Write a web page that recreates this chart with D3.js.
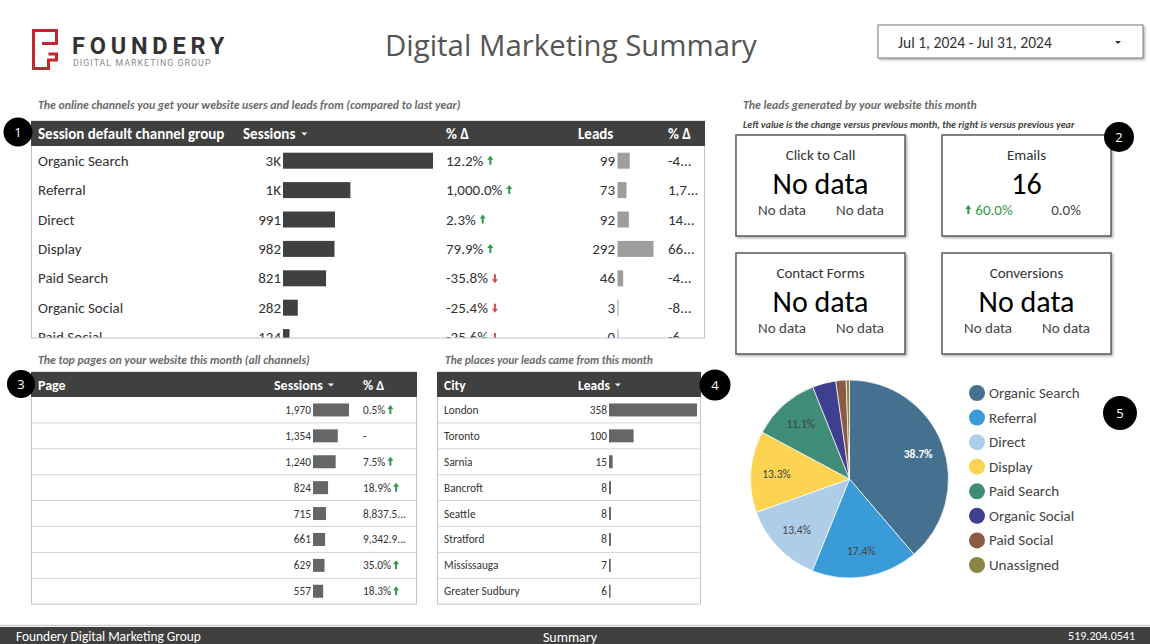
<!DOCTYPE html>
<html><head><meta charset="utf-8">
<script src="https://cdn.jsdelivr.net/npm/d3@7"></script>
<style>
body{margin:0;background:#fff;}
svg{display:block;}
</style></head><body>
<svg id="c" width="1150" height="644"></svg>
<script>
// ---------------- DATA ----------------
const channels = ["Organic Search","Referral","Direct","Display","Paid Search","Organic Social","Paid Social"];
const channelSessions = [2860,1285,991,982,821,282,124];
const channelSessionLabels = ["3K","1K","991","982","821","282","124"];
const channelSessionDelta = ["12.2%","1,000.0%","2.3%","79.9%","-35.8%","-25.4%","-25.6%"];
const channelSessionDir = [1,1,1,1,-1,-1,-1];
const channelLeads = [99,73,92,292,46,3,0];
const channelLeadDelta = ["-4...","1,7...","14...","66...","-4...","-8...","-6..."];

const pageNames = ["","","","","","","",""];
const pageSessions = [1970,1354,1240,824,715,661,629,557];
const pageDelta = ["0.5%","-","7.5%","18.9%","8,837.5...","9,342.9...","35.0%","18.3%"];
const pageDir = [1,0,1,1,0,0,1,1];

const cities = ["London","Toronto","Sarnia","Bancroft","Seattle","Stratford","Mississauga","Greater Sudbury"];
const cityLeads = [358,100,15,8,8,8,7,6];

const pieCategories = ["Organic Search","Referral","Direct","Display","Paid Search","Organic Social","Paid Social","Unassigned"];
const pieSessions = [2860,1285,991,982,821,282,124,40];
const pieColors = ["#46708f","#3a9bd9","#aecde8","#fdd352","#3f8c79","#3e408f","#8b5a42","#8a8446"];

const kpiTitles = ["Click to Call","Emails","Contact Forms","Conversions"];
const kpiValues = ["No data","16","No data","No data"];
const kpiLeft = ["No data","60.0%","No data","No data"];
const kpiRight = ["No data","0.0%","No data","No data"];
const kpiLeftDir = [0,1,0,0];

// ---------------- DRAW ----------------
const FONT = "Carlito, Lato, 'Open Sans', sans-serif";
const svg = d3.select("#c").attr("font-family", FONT);
const defs = svg.append("defs");
const sh = defs.append("filter").attr("id","sh").attr("x","-10%").attr("y","-10%").attr("width","130%").attr("height","130%");
sh.append("feDropShadow").attr("dx",1.5).attr("dy",1.5).attr("stdDeviation",1.2).attr("flood-color","#000").attr("flood-opacity",0.3);

const GREEN = "#2e9a47", RED = "#e0474b", HEAD = "#404040", BORDER = "#bcc7d2";

function arrow(g, x, y, dir){
  const p = dir > 0
    ? `M${x},${y-5} L${x-3},${y-1} L${x-1},${y-1} L${x-1},${y+4} L${x+1},${y+4} L${x+1},${y-1} L${x+3},${y-1} Z`
    : `M${x},${y+5} L${x-3},${y+1} L${x-1},${y+1} L${x-1},${y-4} L${x+1},${y-4} L${x+1},${y+1} L${x+3},${y+1} Z`;
  g.append("path").attr("d",p).attr("fill", dir>0?GREEN:RED);
}
function sortTri(g, x, y){
  g.append("path").attr("d",`M${x-3},${y-1.5} L${x+3},${y-1.5} L${x},${y+1.5} Z`).attr("fill","#fff");
}
function fit(sel, w){
  const l = sel.node().getComputedTextLength();
  const fs = parseFloat(sel.attr("font-size"));
  sel.attr("font-size", fs*w/l);
}
function badge(x, y, r, n){
  svg.append("circle").attr("cx",x).attr("cy",y).attr("r",r).attr("fill","#000");
  svg.append("text").attr("x",x).attr("y",y).attr("text-anchor","middle").attr("dominant-baseline","central")
    .attr("fill","#fff").attr("font-size",13).attr("font-family","'Open Sans', sans-serif").text(n);
}

// ---- Logo ----
svg.append("path")
  .attr("d","M48.5,54 L56.5,54 L56.5,60 L48.5,60 L48.5,68.5 L33.5,68.5 L33.5,30.5 L56.5,30.5 L56.5,43.5 L42,43.5")
  .attr("fill","none").attr("stroke","#c1272d").attr("stroke-width",3);
const lt = svg.append("text").attr("x",72).attr("y",53.5).attr("font-family","Roboto, sans-serif")
  .attr("font-weight",700).attr("font-size",23.5).attr("letter-spacing",4.8).attr("fill","#333").text("FOUNDERY");
const lt2 = svg.append("text").attr("x",73).attr("y",66).attr("font-family","Roboto, sans-serif")
  .attr("font-size",8.8).attr("letter-spacing",1.05).attr("fill","#8a8a8a").text("DIGITAL MARKETING GROUP");

// ---- Title ----
const title = svg.append("text").attr("x",385).attr("y",56).attr("font-family","'Open Sans', sans-serif")
  .attr("font-size",28).attr("fill","#555").text("Digital Marketing Summary");
fit(title, 372);

// ---- Date picker ----
svg.append("rect").attr("x",878).attr("y",25).attr("width",265).attr("height",33)
  .attr("fill","#fff").attr("stroke","#777").attr("stroke-width",1).attr("filter","url(#sh)");
const dt = svg.append("text").attr("x",898).attr("y",42).attr("dominant-baseline","central")
  .attr("font-size",14).attr("fill","#333").text("Jul 1, 2024 - Jul 31, 2024");
fit(dt, 154);
svg.append("path").attr("d","M1115,41 L1121,41 L1118,44 Z").attr("fill","#333");

// ---- Subtitles ----
function sub(x, y, t, fs, col, w){
  const s = svg.append("text").attr("x",x).attr("y",y).attr("font-size",fs).attr("font-style","italic")
    .attr("font-weight",700).attr("fill",col).text(t);
  if (w) fit(s, w);
}
sub(38,109,"The online channels you get your website users and leads from (compared to last year)",10.5,"#6b6b6b",423);
sub(743,109,"The leads generated by your website this month",10.5,"#6b6b6b",234);
sub(743,128,"Left value is the change versus previous month, the right is versus previous year",8.5,"#444",332);
sub(38,364,"The top pages on your website this month (all channels)",10.5,"#6b6b6b",272);
sub(445,364,"The places your leads came from this month",10.5,"#6b6b6b",208);

// ---- Table 1: channels ----
{
  const x0=31, y0=121, w=674, h=217, hh=25;
  defs.append("clipPath").attr("id","clip1").append("rect").attr("x",x0).attr("y",y0).attr("width",w).attr("height",h);
  const g = svg.append("g").attr("clip-path","url(#clip1)");
  g.append("rect").attr("x",x0).attr("y",y0).attr("width",w).attr("height",h).attr("fill","#fff");
  const hy = y0+hh/2+0.5;

  const y = d3.scaleBand().domain(channels).range([y0+hh, y0+hh+channels.length*29.4]);
  const xs = d3.scaleLinear().domain([0, d3.max(channelSessions)]).range([0,150]);
  const xl = d3.scaleLinear().domain([0, d3.max(channelLeads)]).range([0,36]);
  channels.forEach((c,i)=>{
    const cy = y(c)+y.bandwidth()/2;
    const tx = (x,t,anchor,col)=>g.append("text").attr("x",x).attr("y",cy).attr("dominant-baseline","central")
      .attr("font-size",15).attr("fill",col||"#333").attr("text-anchor",anchor||"start").text(t);
    tx(38,c);
    tx(281,channelSessionLabels[i],"end");
    g.append("rect").attr("x",283).attr("y",cy-8).attr("width",xs(channelSessions[i])).attr("height",16).attr("fill","#404040");
    const dtx = tx(446,channelSessionDelta[i]);
    arrow(g, 446+dtx.node().getComputedTextLength()+7, cy, channelSessionDir[i]);
    tx(615,channelLeads[i],"end");
    g.append("rect").attr("x",617.5).attr("y",cy-8).attr("width",Math.max(1,xl(channelLeads[i]))).attr("height",16).attr("fill","#9e9e9e");
    tx(668,channelLeadDelta[i]);
  });
  svg.append("rect").attr("x",x0+0.5).attr("y",y0).attr("width",w-1).attr("height",h).attr("fill","none").attr("stroke",BORDER);
  svg.append("rect").attr("x",x0).attr("y",y0).attr("width",w).attr("height",hh).attr("fill",HEAD);
  const g2 = svg.append("g");
  const hdr2 = (x,t)=>g2.append("text").attr("x",x).attr("y",hy).attr("dominant-baseline","central")
    .attr("font-size",15).attr("font-weight",700).attr("fill","#fff").text(t);
  hdr2(38,"Session default channel group");
  const s2 = hdr2(243,"Sessions");
  sortTri(g2, 243+s2.node().getComputedTextLength()+9, hy);
  hdr2(446,"% \u0394"); hdr2(578,"Leads"); hdr2(668,"% \u0394");
}

// ---- Table 3: pages ----
{
  const x0=31, y0=372, w=386, hh=25, rh=25.9;
  const n = pageSessions.length;
  const h = hh + n*rh;
  const g = svg.append("g");
  g.append("rect").attr("x",x0+0.5).attr("y",y0).attr("width",w-1).attr("height",h).attr("fill","#fff").attr("stroke",BORDER);
  g.append("rect").attr("x",x0).attr("y",y0).attr("width",w).attr("height",hh).attr("fill",HEAD);
  const hy = y0+hh/2+0.5;
  const hdr = (x,t)=>g.append("text").attr("x",x).attr("y",hy).attr("dominant-baseline","central")
    .attr("font-size",14).attr("font-weight",700).attr("fill","#fff").text(t);
  hdr(38,"Page");
  const s = hdr(274,"Sessions");
  sortTri(g, 274+s.node().getComputedTextLength()+8, hy);
  hdr(363,"% \u0394");
  const idx = d3.range(n);
  const y = d3.scaleBand().domain(idx).range([y0+hh, y0+h]);
  const xs = d3.scaleLinear().domain([0, d3.max(pageSessions)]).range([0,36]);
  idx.forEach(i=>{
    const top = y(i), cy = top + rh/2;
    if (i>0) g.append("line").attr("x1",x0+1).attr("x2",x0+w-1).attr("y1",top).attr("y2",top).attr("stroke","#cfd6dd");
    g.append("text").attr("x",38).attr("y",cy).attr("dominant-baseline","central").attr("font-size",11).attr("fill","#333").text(pageNames[i]);
    g.append("text").attr("x",311).attr("y",cy).attr("dominant-baseline","central").attr("text-anchor","end")
      .attr("font-size",11.3).attr("fill","#333").text(d3.format(",")(pageSessions[i]));
    g.append("rect").attr("x",313).attr("y",cy-6.5).attr("width",xs(pageSessions[i])).attr("height",13).attr("fill","#666");
    const t = g.append("text").attr("x",363).attr("y",cy).attr("dominant-baseline","central")
      .attr("font-size",11.3).attr("fill","#333").text(pageDelta[i]);
    if (pageDir[i]) arrow(g, 363+t.node().getComputedTextLength()+5, cy, pageDir[i]);
  });
}

// ---- Table 4: cities ----
{
  const x0=437, y0=372, w=264, hh=25, rh=25.9;
  const n = cities.length;
  const h = hh + n*rh;
  const g = svg.append("g");
  g.append("rect").attr("x",x0+0.5).attr("y",y0).attr("width",w-1).attr("height",h).attr("fill","#fff").attr("stroke",BORDER);
  g.append("rect").attr("x",x0).attr("y",y0).attr("width",w).attr("height",hh).attr("fill",HEAD);
  const hy = y0+hh/2+0.5;
  const hdr = (x,t)=>g.append("text").attr("x",x).attr("y",hy).attr("dominant-baseline","central")
    .attr("font-size",13.5).attr("font-weight",700).attr("fill","#fff").text(t);
  hdr(444,"City");
  const s = hdr(578,"Leads");
  sortTri(g, 578+s.node().getComputedTextLength()+8, hy);
  const y = d3.scaleBand().domain(cities).range([y0+hh, y0+h]);
  const xs = d3.scaleLinear().domain([0, d3.max(cityLeads)]).range([0,88]);
  cities.forEach((c,i)=>{
    const top = y(c), cy = top + rh/2;
    if (i>0) g.append("line").attr("x1",x0+1).attr("x2",x0+w-1).attr("y1",top).attr("y2",top).attr("stroke","#cfd6dd");
    g.append("text").attr("x",444).attr("y",cy).attr("dominant-baseline","central").attr("font-size",11.3).attr("fill","#333").text(c);
    g.append("text").attr("x",607).attr("y",cy).attr("dominant-baseline","central").attr("text-anchor","end")
      .attr("font-size",11.3).attr("fill","#333").text(cityLeads[i]);
    g.append("rect").attr("x",609).attr("y",cy-6.5).attr("width",Math.max(1.5,xs(cityLeads[i]))).attr("height",13).attr("fill","#666");
  });
}

// ---- KPI cards ----
{
  const pos = [[736,135],[942,135],[736,253],[942,253]];
  kpiTitles.forEach((t,i)=>{
    const [x,y] = pos[i];
    const g = svg.append("g");
    g.append("rect").attr("x",x).attr("y",y).attr("width",169).attr("height",101)
      .attr("fill","#fff").attr("stroke","#595959").attr("stroke-width",1.5).attr("filter","url(#sh)");
    g.append("text").attr("x",x+84.5).attr("y",y+20).attr("text-anchor","middle").attr("dominant-baseline","central")
      .attr("font-size",15).attr("fill","#333").text(t);
    g.append("text").attr("x",x+84.5).attr("y",y+48).attr("text-anchor","middle").attr("dominant-baseline","central")
      .attr("font-size",30).attr("fill","#000").text(kpiValues[i]);
    const col = kpiLeftDir[i]>0 ? GREEN : "#444";
    const lt = g.append("text").attr("x",x+46).attr("y",y+75).attr("text-anchor","middle").attr("dominant-baseline","central")
      .attr("font-size",15).attr("fill",col).text(kpiLeft[i]);
    if (kpiLeftDir[i]) {
      const lw = lt.node().getComputedTextLength();
      lt.attr("x", x+52);
      arrow(g, x+52-lw/2-7, y+75, kpiLeftDir[i]);
    }
    g.append("text").attr("x",x+124).attr("y",y+75).attr("text-anchor","middle").attr("dominant-baseline","central")
      .attr("font-size",15).attr("fill","#444").text(kpiRight[i]);
  });
}

// ---- Pie ----
{
  const cx=849.5, cy=479, r=99;
  const total = d3.sum(pieSessions);
  const pie = d3.pie().sort(null).value(d=>d)(pieSessions);
  const arc = d3.arc().innerRadius(0).outerRadius(r);
  const lab = d3.arc().innerRadius(r*0.74).outerRadius(r*0.74);
  const g = svg.append("g").attr("transform",`translate(${cx},${cy})`);
  g.selectAll("path").data(pie).join("path").attr("d",arc).attr("fill",(d,i)=>pieColors[i])
    .attr("stroke","#fff").attr("stroke-width",0.7);
  g.selectAll("text").data(pie.filter(d=>d.value/total>0.05)).join("text")
    .attr("transform",d=>`translate(${lab.centroid(d)})`)
    .attr("text-anchor","middle").attr("dominant-baseline","central")
    .attr("font-size",11.5).attr("fill",d=>d.index===0?"#fff":"#444")
    .attr("font-weight",d=>d.index===0?700:400)
    .text(d=>d3.format(".1%")(d.value/total));
  const ly = d3.scalePoint().domain(pieCategories).range([393,565]);
  const lg = svg.append("g");
  pieCategories.forEach((c,i)=>{
    lg.append("circle").attr("cx",977).attr("cy",ly(c)).attr("r",8).attr("fill",pieColors[i]);
    lg.append("text").attr("x",989).attr("y",ly(c)).attr("dominant-baseline","central")
      .attr("font-size",15).attr("fill","#444").text(c);
  });
}

// ---- Badges ----
badge(18,132,14.5,"1");
badge(1119,137,15,"2");
badge(21,384,14,"3");
badge(715,385,15.5,"4");
badge(1120,413,17,"5");

// ---- Footer ----
svg.append("line").attr("x1",0).attr("x2",1150).attr("y1",625.5).attr("y2",625.5).attr("stroke","#ccc").attr("stroke-width",1.5);
svg.append("rect").attr("x",0).attr("y",627).attr("width",1150).attr("height",17).attr("fill","#3f3f3f");
const f1 = svg.append("text").attr("x",16).attr("y",636).attr("dominant-baseline","central").attr("font-size",12).attr("fill","#fff").text("Foundery Digital Marketing Group");
fit(f1,185);
svg.append("text").attr("x",570).attr("y",637).attr("dominant-baseline","central").attr("text-anchor","middle").attr("font-size",14).attr("fill","#fff").text("Summary");
svg.append("text").attr("x",1135).attr("y",636).attr("dominant-baseline","central").attr("text-anchor","end").attr("font-size",12).attr("fill","#fff").text("519.204.0541");
</script>
</body></html>
